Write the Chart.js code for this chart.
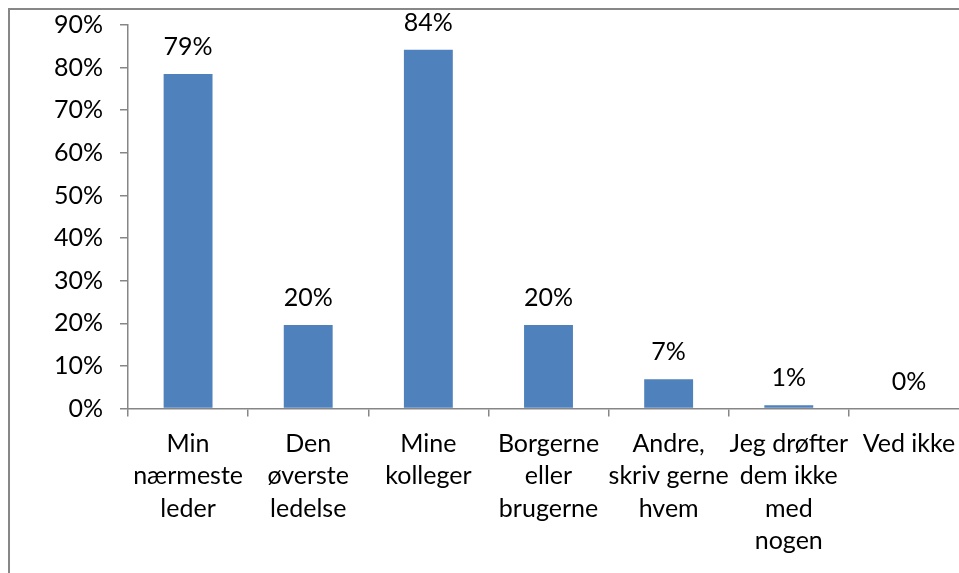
<!DOCTYPE html>
<html lang="da">
<head>
<meta charset="utf-8">
<title>Hvem drøfter du dem med</title>
<script src="https://cdn.jsdelivr.net/npm/chart.js@4.4.1/dist/chart.umd.min.js"></script>
<style>
  html, body { margin: 0; padding: 0; background: #fff; overflow: hidden; }
  #frame {
    position: absolute; left: 8px; top: 8px;
    width: 1000px; height: 620px;
    border: 2px solid #878787;
    overflow: hidden;
  }
  #chart { display: block; }
</style>
</head>
<body>
<div id="frame">
  <canvas id="chart" width="960" height="590"></canvas>
</div>
<script>
// data
const categories = [
  ['Min', 'nærmeste', 'leder'],
  ['Den', 'øverste', 'ledelse'],
  ['Mine', 'kolleger'],
  ['Borgerne', 'eller', 'brugerne'],
  ['Andre,', 'skriv gerne', 'hvem'],
  ['Jeg drøfter', 'dem ikke', 'med', 'nogen'],
  ['Ved ikke']
];
const shares = [78.5, 19.6, 84.2, 19.6, 6.85, 0.75, 0];
const yTicks = [0, 10, 20, 30, 40, 50, 60, 70, 80, 90];

const AXIS_GREY = '#868686';
const BAR_BLUE = '#4F81BD';
const FONT = 'Lato, "Open Sans", sans-serif';

Chart.defaults.font.family = FONT;
Chart.defaults.font.size = 25;
Chart.defaults.color = '#000';

// percentage labels above each bar
const barValueLabels = {
  id: 'barValueLabels',
  afterDatasetsDraw(chart) {
    const { ctx } = chart;
    const meta = chart.getDatasetMeta(0);
    ctx.save();
    ctx.font = '25px ' + FONT;
    ctx.fillStyle = '#000';
    ctx.textAlign = 'center';
    ctx.textBaseline = 'alphabetic';
    meta.data.forEach((bar, i) => {
      ctx.fillText(Math.round(shares[i]) + '%', bar.x, bar.y - 19);
    });
    ctx.restore();
  }
};

new Chart(document.getElementById('chart').getContext('2d'), {
  type: 'bar',
  data: {
    labels: categories,
    datasets: [{
      data: shares,
      backgroundColor: BAR_BLUE,
      borderWidth: 0,
      categoryPercentage: 1,
      barPercentage: 0.407
    }]
  },
  options: {
    responsive: false,
    animation: false,
    layout: { padding: { top: 0, right: 1, left: 0, bottom: 0 } },
    plugins: { legend: { display: false }, tooltip: { enabled: false } },
    scales: {
      x: {
        grid: { display: true, drawOnChartArea: false, drawTicks: true, tickLength: 8, color: AXIS_GREY, lineWidth: 1.5, offset: true },
        border: { display: true, color: AXIS_GREY, width: 1.5 },
        ticks: { padding: 11, maxRotation: 0, autoSkip: false, font: { size: 25, lineHeight: 1.3 }, color: '#000' },
        afterFit: s => { s.height = 191.5; }
      },
      y: {
        min: yTicks[0],
        max: yTicks[yTicks.length - 1],
        grid: { display: true, drawOnChartArea: false, drawTicks: true, tickLength: 8, color: AXIS_GREY, lineWidth: 1.5 },
        border: { display: true, color: AXIS_GREY, width: 1.5 },
        ticks: { stepSize: 10, padding: 17, color: '#000', font: { size: 25 }, callback: v => v + '%' },
        afterBuildTicks: s => { s.ticks = yTicks.map(v => ({ value: v })); },
        afterFit: s => { s.width = 118; s.paddingTop = 15; s.paddingBottom = 0; }
      }
    }
  },
  plugins: [barValueLabels]
});
</script>
</body>
</html>
